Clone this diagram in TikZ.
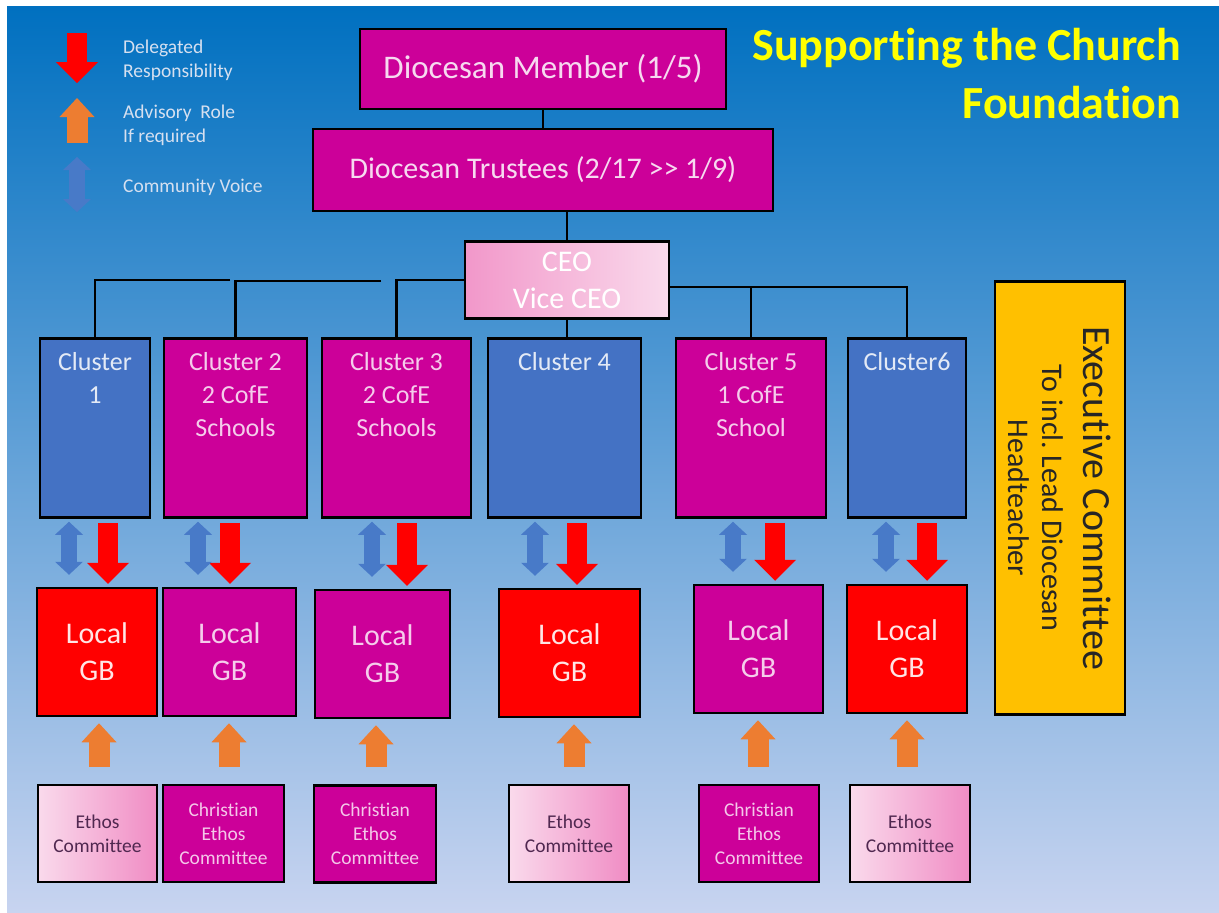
\documentclass[tikz,border=0pt]{standalone}
\usepackage{fontspec}
\setmainfont{Carlito}[Ligatures=NoCommon]
\usetikzlibrary{calc}
\usetikzlibrary{arrows.meta}

\definecolor{bgtop}{RGB}{0,112,192}
\definecolor{bgbot}{RGB}{200,212,240}
\definecolor{dmagenta}{RGB}{204,0,153}
\definecolor{dblue}{RGB}{68,114,196}
\definecolor{dred}{RGB}{255,0,0}
\definecolor{dgold}{RGB}{255,192,0}
\definecolor{pinkdark}{RGB}{240,140,196}
\definecolor{pinklight}{RGB}{250,218,236}
\definecolor{arrowblue}{RGB}{72,122,200}
\definecolor{arroworange}{RGB}{237,125,49}
\definecolor{legendtext}{RGB}{214,224,240}
\definecolor{titleyellow}{RGB}{255,255,0}
\definecolor{ethostext}{RGB}{80,40,80}

\tikzset{
  box/.style={draw=black, line width=2.5pt, inner sep=0pt, align=center},
  magbox/.style={box, fill=dmagenta, text=white!85!dmagenta},
  clusterblue/.style={box, fill=dblue, minimum height=179pt},
  clustermag/.style={box, fill=dmagenta, minimum height=179pt},
  clustertext/.style={anchor=north, align=center, inner sep=15pt, font=\fontsize{26}{33}\selectfont},
  gbred/.style={box, fill=dred, text=white!90!dred, minimum height=128pt, font=\fontsize{30}{37}\selectfont},
  gbmag/.style={box, fill=dmagenta, text=white!80!dmagenta, minimum height=128pt, font=\fontsize{30}{37}\selectfont},
  ethospink/.style={box, left color=pinklight, right color=pinkdark, text=ethostext, minimum height=97pt, font=\fontsize{19.5}{24}\selectfont},
  ethosmag/.style={box, fill=dmagenta, text=white!78!dmagenta, minimum height=97pt, font=\fontsize{19.5}{24}\selectfont},
  conn/.style={draw=black, line width=2.5pt},
  delegated/.style={draw=dred, line width=20pt, -{Triangle[length=21pt, width=42pt, line width=0pt]}},
  voice/.style={draw=arrowblue, line width=16pt, {Triangle[length=13pt, width=28pt, line width=0pt]}-{Triangle[length=13pt, width=28pt, line width=0pt]}},
  advisory/.style={draw=arroworange, line width=21pt, -{Triangle[length=19pt, width=35pt, line width=0pt]}},
  legend/.style={anchor=west, align=left, inner sep=0pt, text=legendtext, font=\fontsize{19.5}{24}\selectfont},
}

\begin{document}
\begin{tikzpicture}[x=1pt,y=-1pt]
    \useasboundingbox (0,0) rectangle (1219,913);
    \shade[top color=bgtop, bottom color=bgbot] (7,6) rectangle (1219,913);

    % Title
    \node[anchor=north east, align=right, inner sep=0pt, text=titleyellow,
          font=\fontsize{46}{58}\selectfont\bfseries] (title) at (1181,28)
          {Supporting the Church\\Foundation};

    % Legend
    \coordinate (lr1) at (77,33);
    \coordinate (lr2) at (77,83);
    \coordinate (lo1) at (77,143);
    \coordinate (lo2) at (77,98);
    \coordinate (lb1) at (77,157);
    \coordinate (lb2) at (77,212);
    \draw[delegated] (lr1) -- (lr2);
    \draw[advisory] (lo1) -- (lo2);
    \draw[voice] (lb1) -- (lb2);
    \node[legend] (ldel) at (123,60) {Delegated\\Responsibility};
    \node[legend] (ladv) at (123,125) {Advisory~~Role\\If required};
    \node[legend] (lvoi) at (123,187) {Community Voice};

    % Diocese and CEO
    \node[magbox, minimum width=366pt, minimum height=80pt, font=\fontsize{33}{40}\selectfont] (mem) at (543,69) {Diocesan Member (1/5)};
    \node[magbox, minimum width=460pt, minimum height=82pt, font=\fontsize{30}{37}\selectfont] (trus) at (543,170) {Diocesan Trustees (2/17 >{}> 1/9)};
    \node[box, left color=pinkdark!90, right color=pinklight, text=white, minimum width=204pt, minimum height=77pt, font=\fontsize{30}{37}\selectfont] (ceo) at (567,280) {CEO\\Vice CEO};

    % Clusters
    \node[clusterblue, minimum width=110pt, label={[clustertext, text=white!85!dblue]north:Cluster\\1}] (c1) at (95,428) {};
    \node[clustermag, minimum width=143pt, label={[clustertext, text=white!80!dmagenta]north:Cluster 2\\2 CofE\\Schools}] (c2) at (235.5,428) {};
    \node[clustermag, minimum width=149pt, label={[clustertext, text=white!80!dmagenta]north:Cluster 3\\2 CofE\\Schools}] (c3) at (396.5,428) {};
    \node[clusterblue, minimum width=153pt, label={[clustertext, text=white!85!dblue]north:Cluster 4}] (c4) at (564.5,428) {};
    \node[clustermag, minimum width=150pt, label={[clustertext, text=white!80!dmagenta]north:Cluster 5\\1 CofE\\School}] (c5) at (751,428) {};
    \node[clusterblue, minimum width=118pt, label={[clustertext, text=white!85!dblue]north:Cluster6}] (c6) at (907,428) {};

    % Executive committee
    \node[box, fill=dgold, text=black!85, rotate=-90, minimum width=433pt, minimum height=130pt,
          font=\fontsize{30}{34}\selectfont] (exec) at (1060,498)
          {{\fontsize{40}{44}\selectfont Executive Committee}\\[7pt]To incl.\ Lead Diocesan\\Headteacher};

    % Local governing bodies
    \node[gbred, minimum width=120pt] (g1) at (97,652) {Local\\GB};
    \node[gbmag, minimum width=133pt] (g2) at (229.5,652) {Local\\GB};
    \node[gbmag, minimum width=135pt] (g3) at (382.5,654) {Local\\GB};
    \node[gbred, minimum width=141pt] (g4) at (569.5,653) {Local\\GB};
    \node[gbmag, minimum width=129pt] (g5) at (758.5,649) {Local\\GB};
    \node[gbred, minimum width=120pt] (g6) at (907,649) {Local\\GB};

    % Ethos committees
    \node[ethospink, minimum width=119pt] (e1) at (97.5,833.5) {Ethos\\Committee};
    \node[ethosmag, minimum width=121pt] (e2) at (223.5,833.5) {Christian\\Ethos\\Committee};
    \node[ethosmag, minimum width=122pt] (e3) at (375,834) {Christian\\Ethos\\Committee};
    \node[ethospink, minimum width=120pt] (e4) at (569,833.5) {Ethos\\Committee};
    \node[ethosmag, minimum width=120pt] (e5) at (759,833.5) {Christian\\Ethos\\Committee};
    \node[ethospink, minimum width=120pt] (e6) at (910,833.5) {Ethos\\Committee};

    % Lines
    \coordinate (k1) at (230,280);
    \coordinate (k2) at (381,281);
    \coordinate (k3) at ($(ceo.east)+(0,7)$);
    \draw[conn] (mem) -- (trus);
    \draw[conn] (trus.south -| ceo.north) -- (ceo.north);
    \draw[conn] (ceo.west) -| (c3.north);
    \draw[conn] (k2) -| (c2.north);
    \draw[conn] (k1) -| (c1.north);
    \draw[conn] (ceo.south) -- (ceo.south |- c4.north);
    \draw[conn] (k3) -| (c6.north);
    \draw[conn] (c5.north) -- (c5.north |- k3);

    % Block arrows
    \foreach \n/\r/\b/\o in {1/108/69/99, 2/230/198/229, 3/407/372/376, 4/577/535/574, 5/775/733/758, 6/927/886/907} {
        \coordinate (r\n) at (\r,0);
        \coordinate (b\n) at (\b,0);
        \coordinate (o\n) at (\o,0);
        \draw[delegated] ($(r\n |- c\n.south)+(0,4)$) -- ($(r\n |- g\n.north)+(0,-3)$);
        \draw[voice] ($(b\n |- c\n.south)+(0,3)$) -- ($(b\n |- g\n.north)+(0,-12)$);
        \draw[advisory] ($(o\n |- e\n.north)+(0,-17)$) -- ($(o\n |- g\n.south)+(0,6)$);
    }
\end{tikzpicture}
\end{document}
